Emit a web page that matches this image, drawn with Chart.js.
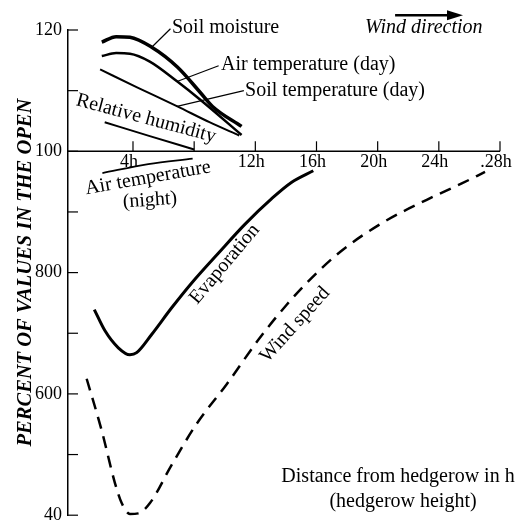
<!DOCTYPE html>
<html>
<head>
<meta charset="utf-8">
<title>Hedgerow shelter effect</title>
<script src="https://cdn.jsdelivr.net/npm/chart.js@4.4.1/dist/chart.umd.min.js"></script>
<style>
  html, body { margin: 0; padding: 0; background: #fff; }
</style>
</head>
<body>
<canvas id="hedgeChart" width="529" height="532"></canvas>
<script>
// distance from the hedgerow (in hedgerow heights) and percent of open-field values
const soilMoistureH   = [1.96, 2.9, 3.8, 5.2, 6.9, 8.4, 9.2, 11.1];
const soilMoistureVal = [118.0, 118.9, 118.8, 117.2, 113.9, 109.7, 107.4, 104.1];

const airTempDayH   = [1.96, 2.9, 3.8, 5.1, 6.9, 8.4, 11.1];
const airTempDayVal = [115.7, 116.2, 116.1, 114.8, 111.5, 108.5, 102.7];

const soilTempDayH   = [1.85, 4.3, 6.9, 9.0, 10.95];
const soilTempDayVal = [113.5, 110.5, 107.4, 104.8, 102.6];

const humidityH   = [2.15, 5.1, 8.0];
const humidityVal = [104.8, 102.5, 100.3];

const airTempNightH   = [2.0, 5.0, 7.9];
const airTempNightVal = [96.4, 97.9, 98.8];

const evaporationH   = [1.47, 2.17, 3.04, 3.8, 4.24, 5.22, 6.53, 7.84, 9.58, 11.33, 13.07, 14.38, 15.79];
const evaporationVal = [73.9, 70.4, 67.6, 66.45, 66.8, 69.8, 74.2, 78.3, 83.2, 88.0, 92.2, 94.9, 96.8];

const windSpeedH   = [0.97, 1.95, 2.82, 3.26, 3.8, 4.35, 5.11, 6.53, 8.17, 10.13, 12.31, 14.05, 15.36, 17.54, 20.37, 23.21, 25.5, 27.02];
const windSpeedVal = [62.5, 54.0, 45.3, 42.0, 40.2, 40.3, 42.0, 48.3, 55.1, 61.6, 69.3, 74.7, 78.3, 83.4, 88.3, 92.0, 94.7, 96.6];

const xTickValues = [4, 8, 12, 16, 20, 24, 28];
const xTickLabels = ["4h", "", "12h", "16h", "20h", "24h", ".28h"];
const yTickLabels = ["40", "", "600", "", "800", "", "100", "", "120"];

const SERIF = "'Liberation Serif', 'Times New Roman', serif";

function pts(xs, ys) {
  return xs.map((x, i) => ({ x: x, y: ys[i] }));
}

function line(label, xs, ys, width, dash) {
  return {
    label: label,
    data: pts(xs, ys),
    borderColor: "#000",
    borderWidth: width,
    borderDash: dash || [],
    pointRadius: 0,
    fill: false,
    clip: false,
    cubicInterpolationMode: "monotone"
  };
}

// text labels placed in data units (h, percent)
const notes = [
  { text: "Soil moisture", h: 6.55, v: 120.3, align: "left", lead: [5.24, 117.2, 6.45, 120.2] },
  { text: "Air temperature (day)", h: 9.76, v: 114.3, align: "left", lead: [6.88, 111.5, 9.6, 114.1] },
  { text: "Soil temperature (day)", h: 11.33, v: 110.0, align: "left", lead: [6.88, 107.4, 11.25, 110.0] },
  { text: "Relative humidity", h: 4.85, v: 105.4, rot: 15 },
  { text: "Air temperature", h: 4.98, v: 95.6, rot: -10 },
  { text: "(night)", h: 5.11, v: 91.9, rot: -4 },
  { text: "Evaporation", h: 10.0, v: 81.4, rot: -50 },
  { text: "Wind speed", h: 14.6, v: 71.4, rot: -48 },
  { text: "Distance from hedgerow in h", h: 21.33, v: 46.4 },
  { text: "(hedgerow height)", h: 21.66, v: 42.3 }
];

const hedgeAxes = {
  id: "hedgeAxes",
  afterDatasetsDraw(chart) {
    const ctx = chart.ctx;
    const xs = chart.scales.x;
    const ys = chart.scales.y;
    const area = chart.chartArea;
    const y100 = ys.getPixelForValue(100);

    ctx.save();
    ctx.strokeStyle = "#000";
    ctx.fillStyle = "#000";

    // horizontal axis sits on the 100 % line
    ctx.lineWidth = 1.5;
    ctx.beginPath();
    ctx.moveTo(area.left, y100);
    ctx.lineTo(area.right, y100);
    ctx.stroke();

    ctx.lineWidth = 1.2;
    ctx.font = "18px " + SERIF;
    ctx.textAlign = "center";
    ctx.textBaseline = "middle";
    xTickValues.forEach((h, i) => {
      const px = xs.getPixelForValue(h);
      ctx.beginPath();
      ctx.moveTo(px, y100);
      ctx.lineTo(px, y100 - 10);
      ctx.stroke();
      if (xTickLabels[i]) ctx.fillText(xTickLabels[i], px - 4, y100 + 11);
    });

    // inward ticks on the vertical axis
    ys.ticks.forEach(t => {
      const py = ys.getPixelForValue(t.value);
      ctx.beginPath();
      ctx.moveTo(area.left, py);
      ctx.lineTo(area.left + 10, py);
      ctx.stroke();
    });

    // curve labels and leader lines
    ctx.font = "20px " + SERIF;
    notes.forEach(n => {
      const px = xs.getPixelForValue(n.h);
      const py = ys.getPixelForValue(n.v);
      if (n.lead) {
        ctx.lineWidth = 1.2;
        ctx.beginPath();
        ctx.moveTo(xs.getPixelForValue(n.lead[0]), ys.getPixelForValue(n.lead[1]));
        ctx.lineTo(xs.getPixelForValue(n.lead[2]), ys.getPixelForValue(n.lead[3]));
        ctx.stroke();
      }
      ctx.save();
      ctx.translate(px, py);
      ctx.rotate((n.rot || 0) * Math.PI / 180);
      ctx.textAlign = n.align || "center";
      ctx.fillText(n.text, 0, 0);
      ctx.restore();
    });

    // wind direction arrow
    const ax0 = xs.getPixelForValue(21.14);
    const ax1 = xs.getPixelForValue(25.58);
    const ay = ys.getPixelForValue(122.45);
    ctx.lineWidth = 2.5;
    ctx.beginPath();
    ctx.moveTo(ax0, ay);
    ctx.lineTo(ax1 - 12, ay);
    ctx.stroke();
    ctx.beginPath();
    ctx.moveTo(ax1, ay);
    ctx.lineTo(ax1 - 16, ay - 5);
    ctx.lineTo(ax1 - 16, ay + 5);
    ctx.closePath();
    ctx.fill();

    ctx.font = "italic 20px " + SERIF;
    ctx.textAlign = "left";
    ctx.fillText("Wind direction", xs.getPixelForValue(19.17), ys.getPixelForValue(120.3));
    ctx.restore();
  }
};

new Chart(document.getElementById("hedgeChart"), {
  type: "line",
  data: {
    datasets: [
      line("Soil moisture", soilMoistureH, soilMoistureVal, 3.5),
      line("Air temperature (day)", airTempDayH, airTempDayVal, 2.5),
      line("Soil temperature (day)", soilTempDayH, soilTempDayVal, 2),
      line("Relative humidity", humidityH, humidityVal, 2),
      line("Air temperature (night)", airTempNightH, airTempNightVal, 1.8),
      line("Evaporation", evaporationH, evaporationVal, 3),
      line("Wind speed", windSpeedH, windSpeedVal, 2.5, [12, 8])
    ]
  },
  options: {
    responsive: false,
    animation: false,
    events: [],
    layout: { padding: { left: 0, right: 29, top: 30, bottom: 13 } },
    plugins: { legend: { display: false }, tooltip: { enabled: false } },
    scales: {
      x: {
        type: "linear",
        min: -0.25,
        max: 28,
        display: false
      },
      y: {
        type: "linear",
        min: 40,
        max: 120,
        afterFit(scale) { scale.width = 68; },
        grid: { display: false, drawTicks: false },
        border: { display: true, color: "#000", width: 1.5 },
        ticks: {
          stepSize: 10,
          padding: 6,
          color: "#000",
          font: { family: SERIF, size: 18 },
          callback: (value, index) => yTickLabels[index]
        },
        title: {
          display: true,
          text: "PERCENT OF VALUES IN THE OPEN",
          color: "#000",
          font: { family: SERIF, size: 20.5, style: "italic", weight: "bold" },
          padding: { top: 13, bottom: 0 }
        }
      }
    }
  },
  plugins: [hedgeAxes]
});
</script>
</body>
</html>
